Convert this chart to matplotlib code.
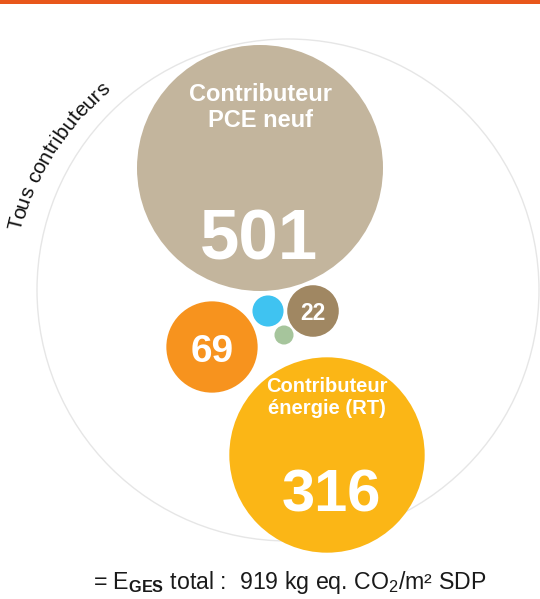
import numpy as np
import matplotlib
matplotlib.use("Agg")
import matplotlib.pyplot as plt
from matplotlib.patches import Circle
from matplotlib.font_manager import FontProperties
from matplotlib.textpath import text_to_path

plt.rcParams['font.family'] = ['Liberation Sans', 'DejaVu Sans']
plt.rcParams['mathtext.fontset'] = 'custom'
plt.rcParams['mathtext.rm'] = 'Liberation Sans'
plt.rcParams['mathtext.bf'] = 'Liberation Sans:bold'

# data: kg eq. CO2 / m2 SDP per contributor
labels = ['Contributeur\nPCE neuf', 'Contributeur\nénergie (RT)', '', '', '', '']
values = [501, 316, 69, 22, 8, 3]
colors = ['#C3B59D', '#FBB616', '#F7931E', '#A08762', '#3FC3F1', '#A6C59C']
total = sum(values)
outer_label = 'Tous contributeurs'

# layout (pixels, y down)
centers = [(260, 168), (327, 455), (212, 347), (313, 311), (268, 311), (284, 335)]
k = 123 / np.sqrt(501)          # radius scale -> area ~ value
outer_c, outer_r = (288, 290), 251

fig = plt.figure(figsize=(5.40, 5.99), dpi=100)
ax = fig.add_axes([0, 0, 1, 1])
ax.set_xlim(0, 540)
ax.set_ylim(599, 0)
ax.axis('off')

ax.axhspan(0, 4, color='#E8571B', lw=0)
ax.add_patch(Circle(outer_c, outer_r, fill=False, ec='#E6E6E6', lw=1.0))

for (x, y), v, c in zip(centers, values, colors):
    ax.add_patch(Circle((x, y), k * np.sqrt(v), color=c, lw=0))

# numbers + labels (baseline = last line)
ax.text(261, 127, labels[0], color='white', fontsize=17, fontweight='bold',
        ha='center', va='baseline', linespacing=1.15)
ax.text(259, 260, str(values[0]), color='white', fontsize=51, fontweight='bold',
        ha='center', va='baseline')
ax.text(327, 414, labels[1], color='white', fontsize=14.5, fontweight='bold',
        ha='center', va='baseline', linespacing=1.22)
ax.text(331, 512, str(values[1]), color='white', fontsize=43, fontweight='bold',
        ha='center', va='baseline')
ax.text(212.5, 362, str(values[2]), color='white', fontsize=28, fontweight='bold',
        ha='center', va='baseline')
ax.text(313, 319.5, str(values[3]), color='white', fontsize=16.5, fontweight='bold',
        ha='center', va='baseline')

# curved label along the outer circle
fp = FontProperties(family='Liberation Sans', size=15)
def width_px(s):
    if not s:
        return 0.0
    w, h, d = text_to_path.get_text_width_height_descent(s, fp, ismath=False)
    return w * 100 / 72

full = width_px(outer_label)
theta_mid = np.radians(149.6)
R_start, R_end = 274, 267
for i, ch in enumerate(outer_label):
    pos = (width_px(outer_label[:i]) + width_px(outer_label[:i + 1])) / 2
    R = R_start + (R_end - R_start) * pos / full
    th = theta_mid - (pos - full / 2) / 270
    x = outer_c[0] + R * np.cos(th)
    y = outer_c[1] - R * np.sin(th)
    ax.text(x, y, ch, fontproperties=fp, color='#111111', ha='center', va='baseline',
            rotation=np.degrees(th) - 90, rotation_mode='anchor')

ax.text(290, 582, r'= E$_{\mathbf{GES}}$ total :  ' + f'{total}' +
        r' kg eq. CO$_{\mathrm{2}}$/m² SDP', color='#1A1A1A', fontsize=16.7,
        ha='center', va='center')

fig.savefig('out.png', dpi=100)
